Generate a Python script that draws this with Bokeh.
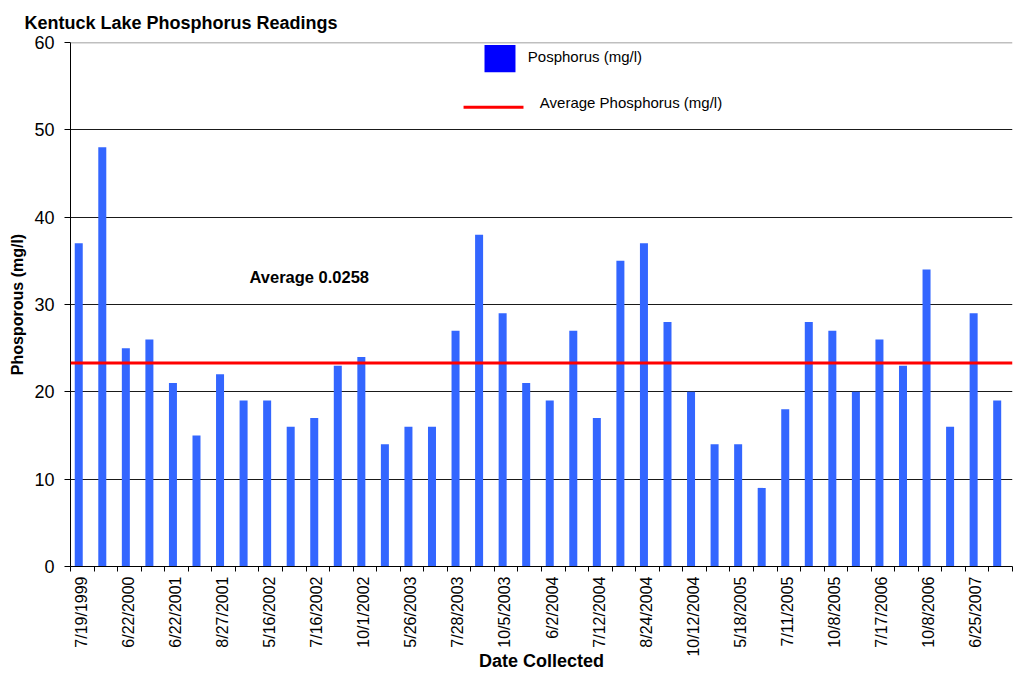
import math
import numpy as np
from bokeh.plotting import figure
from bokeh.models import FixedTicker, Span, Range1d, ColumnDataSource
from bokeh.core.properties import value
from bokeh.embed import file_html
from bokeh.resources import INLINE

# ---- data ----
tick_labels = ["7/19/1999", "6/22/2000", "6/22/2001", "8/27/2001", "5/16/2002",
               "7/16/2002", "10/1/2002", "5/26/2003", "7/28/2003", "10/5/2003",
               "6/2/2004", "7/12/2004", "8/24/2004", "10/12/2004", "5/18/2005",
               "7/11/2005", "10/8/2005", "7/17/2006", "10/8/2006", "6/25/2007"]
phosphorus = [37, 48, 25, 26, 21, 15, 22, 19, 19, 16,
              17, 23, 24, 14, 16, 16, 27, 38, 29, 21,
              19, 27, 17, 35, 37, 28, 20, 14, 14, 9,
              18, 28, 27, 20, 26, 23, 34, 16, 29, 19]
average_value = 23.3
y_ticks = [0, 10, 20, 30, 40, 50, 60]

FONT = "Liberation Sans"
UNIT = 20  # width of one reading slot on the numeric x scale
n = len(phosphorus)
slot = np.arange(n) * UNIT

src = ColumnDataSource(dict(x=slot + 7, top=phosphorus))

p = figure(width=1013, height=673, output_backend="svg", toolbar_location=None,
           x_range=Range1d(0, n * UNIT), y_range=Range1d(0, 60),
           min_border_left=70, min_border_right=1, min_border_top=42,
           min_border_bottom=0)

p.outline_line_color = None
p.background_fill_color = "white"
p.border_fill_color = "white"

# title
p.title.text = "Kentuck Lake Phosphorus Readings"
p.title.text_font = FONT
p.title.text_font_size = "18px"
p.title.text_font_style = "bold"
p.title.text_color = "black"
p.title.align = "left"
p.title.offset = -46
p.title.standoff = 20

# bars
p.vbar(x="x", top="top", width=6.8, bottom=0, source=src,
       fill_color="#3366FF", line_color=None)

# average line
p.add_layout(Span(location=average_value, dimension="width",
                  line_color="#FF0000", line_width=3))

# top border line in grey
p.add_layout(Span(location=60, dimension="width", line_color="#808080", line_width=1.5))

# grid
p.xgrid.grid_line_color = None
p.ygrid.grid_line_color = "#1a1a1a"
p.ygrid.grid_line_width = 1
p.ygrid.ticker = FixedTicker(ticks=y_ticks)

# y axis
ya = p.yaxis[0]
ya.ticker = FixedTicker(ticks=y_ticks)
ya.axis_label = "Phosporous (mg/l)"
ya.axis_label_text_font = FONT
ya.axis_label_text_font_size = "16px"
ya.axis_label_text_font_style = "bold"
ya.axis_label_text_color = "black"
ya.axis_label_standoff = 5
ya.major_label_text_font = FONT
ya.major_label_text_font_size = "18px"
ya.major_label_text_color = "black"
ya.major_tick_out = 6
ya.major_tick_in = 0
ya.minor_tick_line_color = None
ya.major_label_standoff = 10
ya.axis_line_color = "black"
ya.major_tick_line_color = "black"

# x axis
label_pos = [int(v) for v in slot[::2] + 9]
xa = p.xaxis[0]
xa.ticker = FixedTicker(ticks=label_pos, minor_ticks=[int(v) for v in np.arange(n + 1) * UNIT])
xa.major_label_overrides = {pos: lab for pos, lab in zip(label_pos, tick_labels)}
xa.major_label_orientation = math.pi / 2
xa.major_label_text_font = FONT
xa.major_label_text_font_size = "16px"
xa.major_label_text_color = "black"
xa.major_label_standoff = 5
xa.major_tick_out = 0
xa.major_tick_in = 0
xa.minor_tick_out = 5
xa.minor_tick_in = 0
xa.minor_tick_line_color = "black"
xa.axis_line_color = "black"
xa.axis_label = "Date Collected"
xa.axis_label_text_font = FONT
xa.axis_label_text_font_size = "18px"
xa.axis_label_text_font_style = "bold"
xa.axis_label_text_color = "black"
xa.axis_label_standoff = -9

# legend (drawn manually to match the original layout)
p.quad(left=[351.6], right=[377.9], bottom=[56.6], top=[59.7],
       fill_color="#0000FF", line_color=None)
p.segment(x0=[333.8], x1=[384.7], y0=[52.6], y1=[52.6], line_color="#FF0000", line_width=3)
p.text(x=[388.4], y=[58.4], text=["Posphorus (mg/l)"], text_font=value(FONT),
       text_font_size="15px", text_baseline="middle", text_align="left", text_color="black")
p.text(x=[398.6], y=[53.1], text=["Average Phosphorus (mg/l)"], text_font=value(FONT),
       text_font_size="15px", text_baseline="middle", text_align="left", text_color="black")

# average annotation
p.text(x=[152.0], y=[33.1], text=["Average 0.0258"], text_font=value(FONT),
       text_font_size="16.5px", text_font_style="bold", text_baseline="middle",
       text_align="left", text_color="black")

open("out.html", "w").write(file_html(p, INLINE))
